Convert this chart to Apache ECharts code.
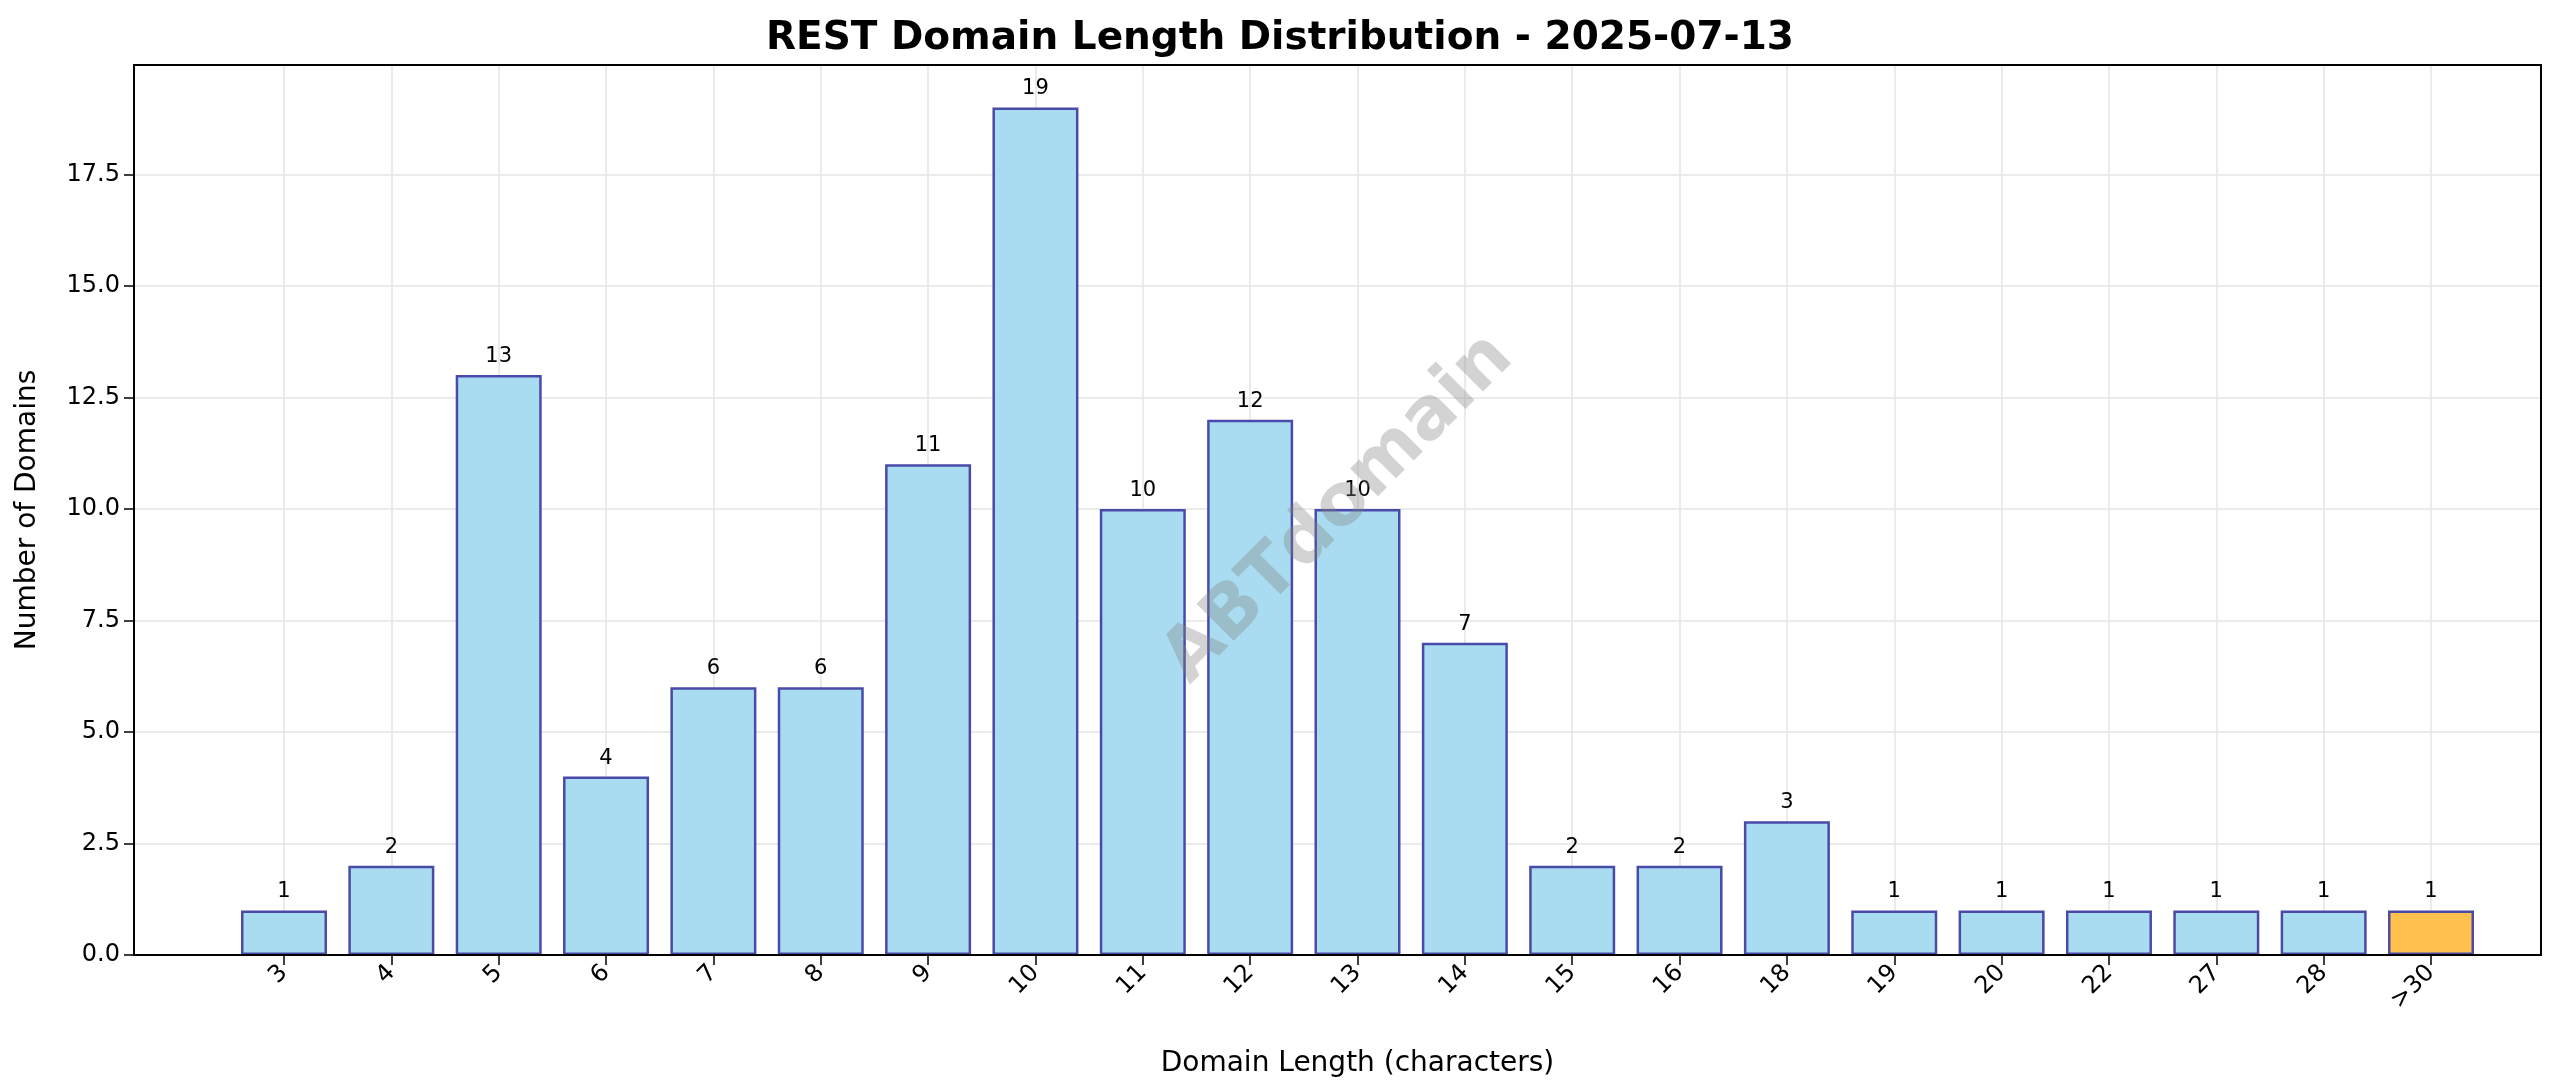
<!DOCTYPE html><html><head><meta charset="utf-8"><script src="https://cdn.jsdelivr.net/npm/echarts@6/dist/echarts.min.js"></script>
<style>html,body{margin:0;background:#fff}#c{width:2560px;height:1087px}</style></head><body><div id="c"></div><script>
const categories=['3','4','5','6','7','8','9','10','11','12','13','14','15','16','18','19','20','22','27','28','>30'];
const values=[1,2,13,4,6,6,11,19,10,12,10,7,2,2,3,1,1,1,1,1,1];
const yTicks=[0,2.5,5,7.5,10,12.5,15,17.5];
const F='DejaVu Sans';
const L=134,R=2541,T=65,B=955,C0=284,C1=2431;
const chart=echarts.init(document.getElementById('c'));
chart.setOption({
 animation:false,
 title:{text:'REST Domain Length Distribution - 2025-07-13',left:'center',top:14,textStyle:{fontFamily:F,fontSize:39,fontWeight:'bold',color:'#000'}},
 grid:[{left:C0,right:2560-C1,top:T,bottom:1087-B},{left:L,right:2560-R,top:T,bottom:1087-B}],
 xAxis:[{type:'value',gridIndex:0,min:0,max:categories.length-1,interval:1,
   axisLine:{show:false},axisTick:{show:true,length:10,lineStyle:{color:'#000',width:1.5}},
   axisLabel:{rotate:45,fontFamily:F,fontSize:24,color:'#000',margin:14,formatter:v=>categories[v]??''},
   splitLine:{show:true,lineStyle:{color:'#e5e5e5',width:1.5}},
   name:'Domain Length (characters)',nameLocation:'middle',nameGap:95,nameTextStyle:{fontFamily:F,fontSize:28,color:'#000'}},
  {type:'value',gridIndex:1,show:false,min:0,max:1}],
 yAxis:[{type:'value',gridIndex:0,min:0,max:19.95,show:false},
  {type:'value',gridIndex:1,min:0,max:19.95,interval:2.5,
   axisLine:{show:false},axisTick:{show:true,length:10,lineStyle:{color:'#000',width:1.5}},
   axisLabel:{fontFamily:F,fontSize:24,color:'#000',margin:14,showMaxLabel:false,formatter:v=>v.toFixed(1)},
   splitLine:{show:true,lineStyle:{color:'#e5e5e5',width:1.5}},
   name:'Number of Domains',nameLocation:'middle',nameGap:92,nameTextStyle:{fontFamily:F,fontSize:28,color:'#000'}}],
 series:[{type:'bar',xAxisIndex:0,yAxisIndex:0,barWidth:86,
   data:values.map((v,i)=>({value:[i,v],itemStyle:{color:categories[i]==='>30'?'#ffc04d':'#a9dcf0',borderColor:'#4a4aa8',borderWidth:2.5}})),
   label:{show:true,position:'top',distance:8,fontFamily:F,fontSize:21,color:'#000',formatter:p=>p.value[1]}}],
 graphic:[{type:'rect',shape:{x:L,y:T,width:R-L,height:B-T},style:{fill:null,stroke:'#000',lineWidth:2},z:100},
  {type:'text',x:1339,y:509,rotation:Math.PI/4,style:{text:'ABTdomain',fontFamily:F,fontSize:72,fontWeight:'bold',fill:'rgba(128,128,128,0.35)',align:'center',verticalAlign:'middle'},z:50}]
});
</script></body></html>
